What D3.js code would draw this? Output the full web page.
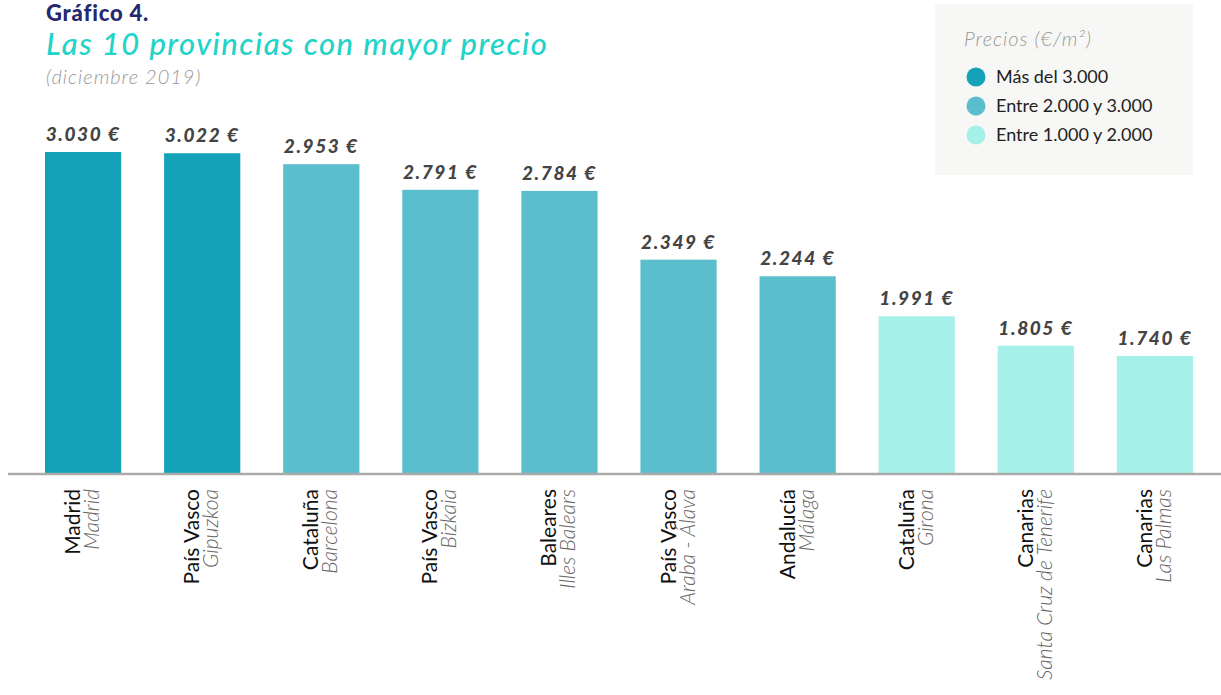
<!DOCTYPE html>
<html>
<head>
<meta charset="utf-8">
<script src="https://cdn.jsdelivr.net/npm/d3@7"></script>
<style>
  html, body { margin: 0; padding: 0; background: #fff; }
  svg { display: block; }
</style>
</head>
<body>
<div id="chart"></div>
<script>
'use strict'

// data
var regions = ['Madrid', 'País Vasco', 'Cataluña', 'País Vasco', 'Baleares',
  'País Vasco', 'Andalucía', 'Cataluña', 'Canarias', 'Canarias']
var provinces = ['Madrid', 'Gipuzkoa', 'Barcelona', 'Bizkaia', 'Illes Balears',
  'Araba - Álava', 'Málaga', 'Girona', 'Santa Cruz de Tenerife', 'Las Palmas']
var prices = [3030, 3022, 2953, 2791, 2784, 2349, 2244, 1991, 1805, 1740]

var legendLabels = ['Más del 3.000', 'Entre 2.000 y 3.000', 'Entre 1.000 y 2.000']
var legendBreaks = [3000, 2000, 1000]
var legendColors = ['#14a2b8', '#5bbecc', '#a6f0ea']

var width = 1221
var height = 695
var baseY = 473

var svg = d3.select('#chart')
  .append('svg')
  .attr('width', width)
  .attr('height', height)

var locale = d3.formatLocale({
  decimal: ',',
  thousands: '.',
  grouping: [3],
  currency: ['', ' €']
})
var fmt = locale.format(',d')

var x = d3.scaleBand()
  .domain(d3.range(prices.length))
  .range([45, 1193])
  .paddingInner(0.36)
  .paddingOuter(0)

// bars start from the lowest legend band
var y = d3.scaleLinear()
  .domain([d3.min(legendBreaks), d3.max(prices)])
  .range([baseY, 152])

function colorFor(v) {
  for (var i = 0; i < legendBreaks.length; i++) {
    if (v > legendBreaks[i]) return legendColors[i]
  }
  return legendColors[legendColors.length - 1]
}

// titles
svg.append('text')
  .attr('x', 46)
  .attr('y', 21)
  .attr('font-family', 'Lato, sans-serif')
  .attr('font-weight', 900)
  .attr('font-size', '22px')
  .attr('letter-spacing', '0.8px')
  .attr('fill', '#25286e')
  .text('Gráfico 4.')

svg.append('text')
  .attr('x', 46)
  .attr('y', 55)
  .attr('font-family', 'Lato, sans-serif')
  .attr('font-style', 'italic')
  .attr('font-weight', 500)
  .attr('font-size', '31px')
  .attr('letter-spacing', '1.5px')
  .attr('fill', '#22d3c8')
  .text('Las 10 provincias con mayor precio')

svg.append('text')
  .attr('x', 46)
  .attr('y', 84)
  .attr('font-family', 'Lato, sans-serif')
  .attr('font-style', 'italic')
  .attr('font-weight', 300)
  .attr('font-size', '20px')
  .attr('letter-spacing', '1px')
  .attr('fill', '#999')
  .text('(diciembre 2019)')

// legend
var legend = svg.append('g')
  .attr('transform', 'translate(935,4)')

legend.append('rect')
  .attr('width', 258)
  .attr('height', 171)
  .attr('fill', '#f7f7f5')

legend.append('text')
  .attr('x', 29)
  .attr('y', 42)
  .attr('font-family', 'Lato, sans-serif')
  .attr('font-style', 'italic')
  .attr('font-weight', 300)
  .attr('font-size', '20px')
  .attr('letter-spacing', '1px')
  .attr('fill', '#999')
  .text('Precios (€/m²)')

var item = legend.selectAll('.item')
  .data(legendLabels)
  .enter()
  .append('g')
  .attr('class', 'item')
  .attr('transform', function(d, i) {
    return 'translate(0,' + (73 + i * 29) + ')'
  })

item.append('circle')
  .attr('cx', 41)
  .attr('cy', 0)
  .attr('r', 9.5)
  .attr('fill', function(d, i) {
    return legendColors[i]
  })

item.append('text')
  .attr('x', 61)
  .attr('y', 6)
  .attr('font-family', 'Lato, sans-serif')
  .attr('font-weight', 400)
  .attr('font-size', '18px')
  .attr('fill', '#222')
  .text(function(d) {
    return d
  })

// bars
var bar = svg.selectAll('.bar')
  .data(prices)
  .enter()
  .append('g')
  .attr('class', 'bar')

bar.append('rect')
  .attr('x', function(d, i) {
    return x(i)
  })
  .attr('y', function(d) {
    return y(d)
  })
  .attr('width', x.bandwidth())
  .attr('height', function(d) {
    return baseY - y(d)
  })
  .attr('fill', colorFor)

bar.append('text')
  .attr('x', function(d, i) {
    return x(i) + x.bandwidth() / 2
  })
  .attr('y', function(d) {
    return y(d) - 11
  })
  .attr('text-anchor', 'middle')
  .attr('font-family', 'Lato, sans-serif')
  .attr('font-style', 'italic')
  .attr('font-weight', 900)
  .attr('font-size', '19px')
  .attr('letter-spacing', '1.6px')
  .attr('fill', '#444')
  .text(function(d) {
    return fmt(d) + ' €'
  })

// baseline
svg.append('line')
  .attr('x1', 8)
  .attr('x2', width)
  .attr('y1', baseY + 1)
  .attr('y2', baseY + 1)
  .attr('stroke', '#aaa')
  .attr('stroke-width', 2.5)

// category labels, rotated
var lab = svg.selectAll('.lab')
  .data(prices)
  .enter()
  .append('g')
  .attr('class', 'lab')
  .attr('transform', function(d, i) {
    return 'translate(' + (x(i) + x.bandwidth() / 2) + ',' + 489 + ') rotate(-90)'
  })

lab.append('text')
  .attr('x', 0)
  .attr('y', -3)
  .attr('text-anchor', 'end')
  .attr('font-family', 'Lato, sans-serif')
  .attr('font-weight', 400)
  .attr('font-size', '21px')
  .attr('fill', '#111')
  .text(function(d, i) {
    return regions[i]
  })

lab.append('text')
  .attr('x', 0)
  .attr('y', 16)
  .attr('text-anchor', 'end')
  .attr('font-family', 'Lato, sans-serif')
  .attr('font-style', 'italic')
  .attr('font-weight', 300)
  .attr('font-size', '21px')
  .attr('fill', '#666')
  .text(function(d, i) {
    return provinces[i]
  })
</script>
</body>
</html>
